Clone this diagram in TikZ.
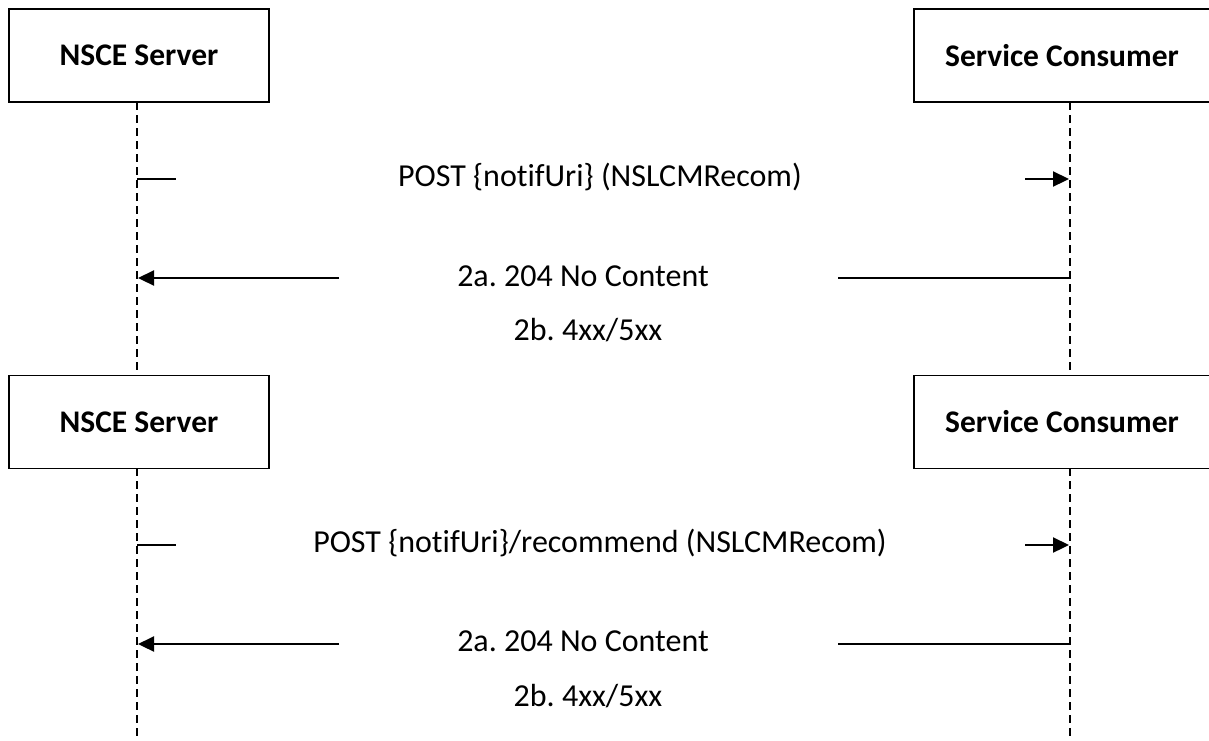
\documentclass[tikz,border=0pt]{standalone}
\usepackage{fontspec}
\setmainfont{Carlito}[Ligatures=NoCommon]
\frenchspacing
\usetikzlibrary{arrows.meta}
\tikzset{
  actor/.style={draw, line width=1.6pt, fill=white, inner sep=0pt, minimum height=93pt, font=\fontsize{31.5}{36}\selectfont\bfseries},
  actortext/.style={font=\fontsize{31.5}{36}\selectfont\bfseries, inner sep=0pt},
  life/.style={line width=1.6pt, dash pattern=on 8pt off 5pt},
  msg/.style={line width=2.2pt},
  arr/.style={msg, -{Triangle[length=16pt,width=15pt]}},
  lbl/.style={font=\fontsize{32}{38}\selectfont, inner sep=0pt}
}
\begin{document}
\begin{tikzpicture}[x=1pt,y=-1pt]
\useasboundingbox (0,0) rectangle (1209,740);
% actor boxes
\begin{scope}
\clip (0,0) rectangle (1209,740);
\node[actor, minimum width=260pt] (ns1) at (139,55.5) {NSCE Server};
\node[actor, minimum width=330pt, anchor=west] (sc1) at (913,55.5) {};
\node[actortext] (sc1t) at (1062,55.5) {Service Consumer};
\node[actor, minimum width=260pt] (ns2) at (139,422) {NSCE Server};
\node[actor, minimum width=330pt, anchor=west] (sc2) at (913,422) {};
\node[actortext] (sc2t) at (1062,422) {Service Consumer};
\end{scope}
% lifeline coordinates
\coordinate (a1) at (137,102);
\coordinate (a2) at (137,376);
\coordinate (a3) at (137,468);
\coordinate (a4) at (137,740);
\coordinate (b1) at (1070,102);
\coordinate (b2) at (1070,376);
\coordinate (b3) at (1070,468);
\coordinate (b4) at (1070,740);
\draw[life] (a1) -- (a2);
\draw[life] (a3) -- (a4);
\draw[life] (b1) -- (b2);
\draw[life] (b3) -- (b4);
% message 1
\coordinate (m1s) at (137,179);
\coordinate (m1a) at (176,179);
\coordinate (m1b) at (1025,179);
\coordinate (m1e) at (1069,179);
\draw[msg] (m1s) -- (m1a);
\draw[arr] (m1b) -- (m1e);
\node[lbl] (t1) at (600,177) {POST \{notifUri\} (NSLCMRecom)};
% message 2
\coordinate (m2s) at (1069,278);
\coordinate (m2a) at (838,278);
\coordinate (m2b) at (339,278);
\coordinate (m2e) at (138,278);
\draw[msg] (m2s) -- (m2a);
\draw[arr] (m2b) -- (m2e);
\node[lbl] (t2) at (583,276) {2a. 204 No Content};
\node[lbl] (t3) at (588,330) {2b. 4xx/5xx};
% message 3
\coordinate (m3s) at (137,545);
\coordinate (m3a) at (176,545);
\coordinate (m3b) at (1025,545);
\coordinate (m3e) at (1069,545);
\draw[msg] (m3s) -- (m3a);
\draw[arr] (m3b) -- (m3e);
\node[lbl] (t4) at (600,543) {POST \{notifUri\}/recommend (NSLCMRecom)};
% message 4
\coordinate (m4s) at (1069,644);
\coordinate (m4a) at (838,644);
\coordinate (m4b) at (339,644);
\coordinate (m4e) at (138,644);
\draw[msg] (m4s) -- (m4a);
\draw[arr] (m4b) -- (m4e);
\node[lbl] (t5) at (583,641) {2a. 204 No Content};
\node[lbl] (t6) at (588,696) {2b. 4xx/5xx};
\end{tikzpicture}
\end{document}
